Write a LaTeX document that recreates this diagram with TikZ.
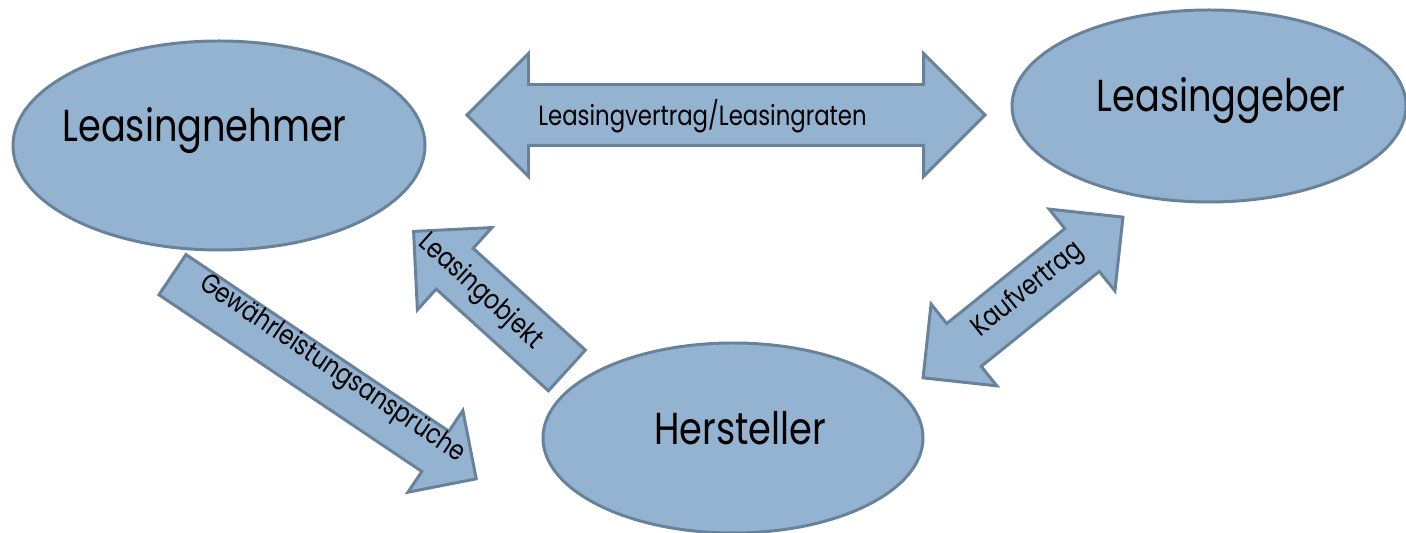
\documentclass[tikz,border=0pt]{standalone}
\usepackage{fontspec}
\setmainfont{Poppins}[FakeStretch=0.82]
\usetikzlibrary{shapes.geometric,shapes.arrows}
\definecolor{boxfill}{RGB}{148,179,209}
\definecolor{boxline}{RGB}{104,130,155}

\begin{document}
\begin{tikzpicture}[
    party/.style={ellipse, draw=boxline, fill=boxfill, line width=1.7pt, inner sep=0pt},
    flow/.style={draw=boxline, fill=boxfill, line width=1.7pt, inner xsep=0pt,
        text height=0pt, text depth=0pt, minimum width=0pt},
    big/.style={font=\fontsize{25.5}{30}\selectfont},
    small/.style={font=\fontsize{15.8}{19}\selectfont}]

    \useasboundingbox (0, 0) rectangle (28.12, 10.66);

    \node[party, minimum width=8.24cm, minimum height=4.18cm] (nehmer) at (4.38, 7.75) {};
    \node[party, minimum width=7.88cm, minimum height=3.84cm] (geber) at (24.18, 8.54) {};
    \node[party, minimum width=7.6cm, minimum height=3.8cm] (hersteller) at (14.66, 1.9) {};

    \node[big, anchor=base] (nehmertext) at (4.09, 7.82) {Leasingnehmer};
    \node[big, anchor=base] (gebertext) at (24.42, 8.42) {Leasinggeber};
    \node[big, anchor=base] (herstellertext) at (14.8, 1.76) {Hersteller};

    \node[flow, double arrow, minimum height=10.36cm, inner ysep=0.58cm,
        double arrow head extend=0.62cm] (vertrag) at (14.52, 8.36) {};
    \node[flow, single arrow, rotate=-33.9, anchor=tip, minimum height=7.32cm,
        inner ysep=0.455cm, single arrow head extend=0.5cm] (gewaehr) at (9.56, 1.06) {};
    \node[flow, single arrow, rotate=137.8, anchor=tip, minimum height=4.14cm,
        inner ysep=0.52cm, single arrow head extend=0.56cm] (objekt) at (8.24, 6.06) {};
    \node[flow, double arrow, rotate=38.8, minimum height=5.13cm, inner ysep=0.52cm,
        double arrow head extend=0.5cm] (kauf) at (20.46, 4.71) {};

    \node[small] (vertragtext) at (14.05, 8.34) {Leasingvertrag/Leasingraten};
    \node[small, rotate=-33.9] (gewaehrtext) at (6.64, 3.28) {Gewährleistungsansprüche};
    \node[small, rotate=-42.2] (objekttext) at (9.6, 4.82) {Leasingobjekt};
    \node[small, rotate=38.8] (kauftext) at (20.56, 4.86) {Kaufvertrag};

\end{tikzpicture}
\end{document}
